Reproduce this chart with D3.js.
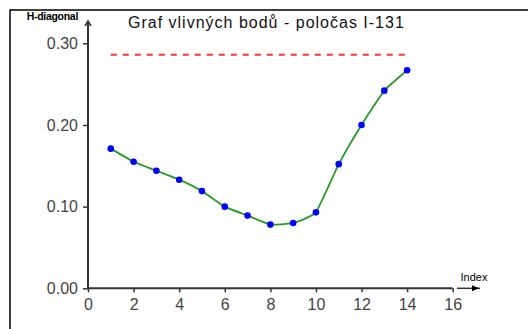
<!DOCTYPE html>
<html>
<head>
<meta charset="utf-8">
<script src="https://cdn.jsdelivr.net/npm/d3@7"></script>
<style>
  body { margin: 0; background: #fff; }
  svg { display: block; font-family: Arial, "Liberation Sans", sans-serif; }
</style>
</head>
<body>
<div class="chart"></div>
<script>
// data
var indexes = [1, 2, 3, 4, 5, 6, 7, 8, 9, 10, 11, 12, 13, 14];
var hDiagonal = [0.171, 0.155, 0.144, 0.133, 0.119, 0.100, 0.089, 0.078, 0.080, 0.093, 0.152, 0.200, 0.242, 0.267];
var limitValue = 0.286;
var xTicks = [0, 2, 4, 6, 8, 10, 12, 14, 16];
var yTicks = [0, 0.1, 0.2, 0.3];
var title = "Graf vlivných bodů - poločas I-131";

var width = 528, height = 329;

var svg = d3.select(".chart").append("svg")
  .attr("width", width)
  .attr("height", height);

svg.append("rect").attr("width", width).attr("height", height).attr("fill", "#fff");

// frame
svg.append("path")
  .attr("d", "M10," + height + "V10H" + width)
  .attr("fill", "none")
  .attr("stroke", "#000")
  .attr("stroke-width", 1.5);

// scales
var x = d3.scaleLinear().domain([0, 16]).range([88, 452.7]);
var y = d3.scaleLinear().domain([0, 0.3]).range([288.3, 43.3]);

var axisColor = "#333";

// y axis
var yAxis = svg.append("g")
  .attr("transform", "translate(" + x(0) + ",0)")
  .call(d3.axisLeft(y).tickValues(yTicks).tickFormat(d3.format(".2f")).tickSize(5).tickPadding(5));
yAxis.select(".domain").remove();
yAxis.selectAll("line").attr("stroke", axisColor).attr("stroke-width", 1.5);
yAxis.selectAll("text").attr("font-size", 16).attr("fill", "#444").attr("font-family", "Arial, 'Liberation Sans', sans-serif");

// x axis
var xAxis = svg.append("g")
  .attr("transform", "translate(0," + y(0) + ")")
  .call(d3.axisBottom(x).tickValues(xTicks).tickSize(4).tickPadding(6));
xAxis.select(".domain").remove();
xAxis.selectAll("line").attr("stroke", axisColor).attr("stroke-width", 1.5);
xAxis.selectAll("text").attr("font-size", 16).attr("fill", "#444").attr("font-family", "Arial, 'Liberation Sans', sans-serif");

// axis lines with arrows
svg.append("line")
  .attr("x1", x(0)).attr("x2", x(0))
  .attr("y1", y(0)).attr("y2", 21)
  .attr("stroke", axisColor).attr("stroke-width", 2);
svg.append("path")
  .attr("d", "M" + (x(0) - 3) + ",26L" + x(0) + ",21L" + (x(0) + 3) + ",26")
  .attr("fill", "none").attr("stroke", axisColor).attr("stroke-width", 1.5);

svg.append("line")
  .attr("x1", x(0)).attr("x2", x(16))
  .attr("y1", y(0)).attr("y2", y(0))
  .attr("stroke", axisColor).attr("stroke-width", 2);
svg.append("line")
  .attr("x1", 457).attr("x2", 480)
  .attr("y1", y(0)).attr("y2", y(0))
  .attr("stroke", axisColor).attr("stroke-width", 1.5);
svg.append("path")
  .attr("d", "M472," + (y(0) - 3) + "L479," + y(0) + "L472," + (y(0) + 3) + "Z")
  .attr("fill", "#000");

// axis names
svg.append("text")
  .attr("x", 78).attr("y", 20)
  .attr("text-anchor", "end")
  .attr("font-size", 10.5)
  .attr("font-weight", "bold")
  .attr("letter-spacing", -0.3)
  .attr("fill", "#000")
  .text("H-diagonal");

svg.append("text")
  .attr("x", 474).attr("y", 281)
  .attr("text-anchor", "middle")
  .attr("font-size", 11)
  .attr("fill", "#000")
  .text("Index");

// chart title
svg.append("text")
  .attr("x", 128).attr("y", 28)
  .attr("font-size", 16)
  .attr("letter-spacing", 1)
  .attr("fill", "#111")
  .text(title);

// limit line
svg.append("line")
  .attr("x1", x(indexes[0])).attr("x2", x(indexes[indexes.length - 1]))
  .attr("y1", y(limitValue)).attr("y2", y(limitValue))
  .attr("stroke", "#f33")
  .attr("stroke-width", 2)
  .attr("stroke-dasharray", "6,6");

var pts = indexes.map(function(d, i) { return [d, hDiagonal[i]]; });

var line = d3.line()
  .x(function(d) { return x(d[0]); })
  .y(function(d) { return y(d[1]); })
  .curve(d3.curveCardinal.tension(0.6));

svg.append("path")
  .datum(pts)
  .attr("fill", "none")
  .attr("stroke", "#2a9a2a")
  .attr("stroke-width", 1.8)
  .attr("d", line);

svg.selectAll(".dot")
  .data(pts)
  .enter().append("circle")
  .attr("class", "dot")
  .attr("cx", function(d) { return x(d[0]); })
  .attr("cy", function(d) { return y(d[1]); })
  .attr("r", 3.3)
  .attr("fill", "#00f");
</script>
</body>
</html>
